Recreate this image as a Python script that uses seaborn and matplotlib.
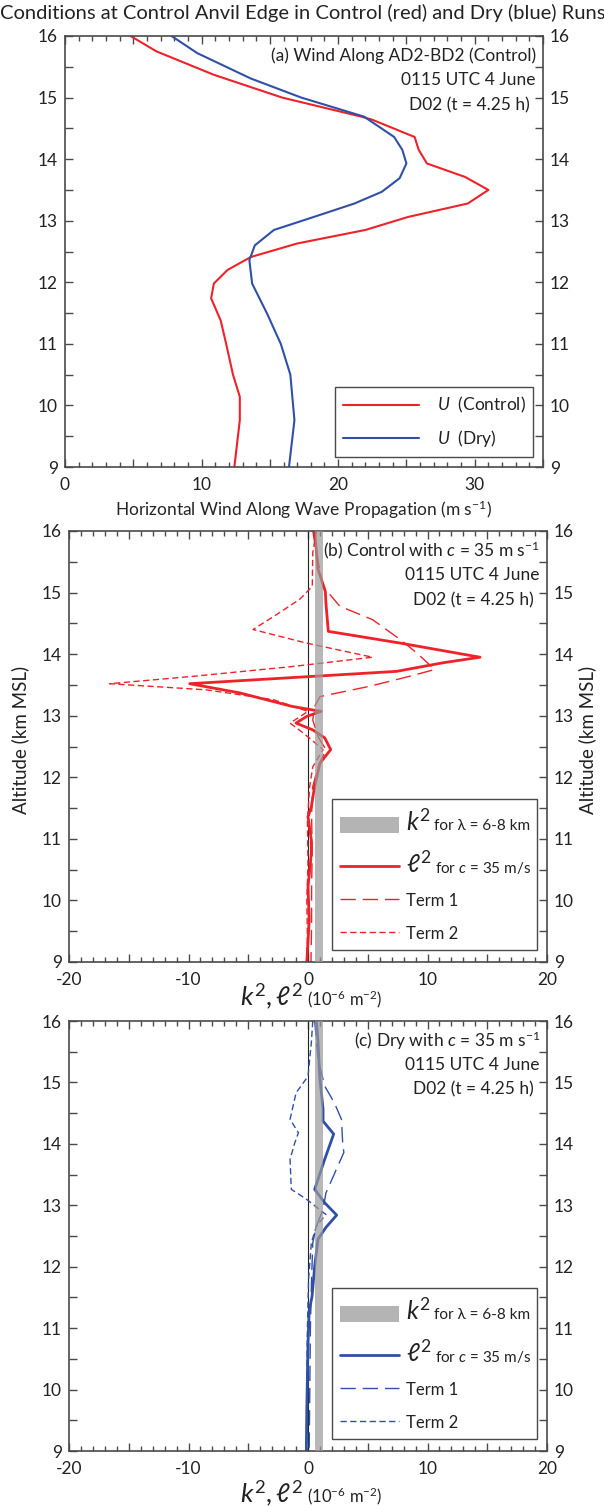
import numpy as np
import matplotlib
matplotlib.use("Agg")
import matplotlib.pyplot as plt
import seaborn as sns
from matplotlib.ticker import MultipleLocator, FuncFormatter
from matplotlib.patches import Patch
from matplotlib.lines import Line2D

# ---- data ----
# (a) wind along wave propagation (m/s) vs altitude (km MSL)
alt_ctl = [16.0, 15.75, 15.37, 15.0, 14.69, 14.64, 14.36, 14.15, 13.93, 13.71, 13.5, 13.28,
           13.06, 12.85, 12.63, 12.41, 12.2, 11.98, 11.74, 11.38, 11.0, 10.5, 10.14, 9.76, 9.0]
u_ctl = [4.8, 6.7, 10.9, 15.9, 21.7, 22.5, 25.6, 25.9, 26.5, 29.3, 31.0, 29.5,
         25.1, 22.0, 17.0, 13.6, 11.9, 10.9, 10.7, 11.4, 11.8, 12.3, 12.8, 12.8, 12.4]
alt_dry = [16.0, 15.72, 15.31, 15.0, 14.69, 14.36, 14.15, 13.93, 13.69, 13.47, 13.28,
           13.06, 12.85, 12.6, 12.36, 11.98, 11.49, 11.0, 10.5, 9.76, 9.0]
u_dry = [7.8, 9.7, 13.6, 17.3, 21.9, 24.1, 24.7, 25.0, 24.5, 23.2, 21.2,
         18.2, 15.3, 13.9, 13.5, 13.7, 14.8, 15.8, 16.5, 16.8, 16.4]

# (b) Control, c = 35 m/s  (10^-6 m^-2)
alt_l2_ctl = [16.0, 15.38, 15.02, 14.83, 14.37, 14.18, 13.95, 13.86, 13.72, 13.52, 13.37,
              13.15, 13.07, 12.99, 12.88, 12.77, 12.64, 12.45, 12.23, 11.85, 11.52, 11.36,
              10.98, 10.76, 10.22, 9.68, 9.0]
l2_ctl = [0.55, 0.84, 1.45, 1.5, 1.7, 7.7, 14.4, 11.3, 7.4, -9.9, -5.7,
          -1.3, 1.1, -0.1, -1.0, 0.4, 1.4, 1.9, 1.0, 0.55, 0.28, 0.0,
          0.28, 0.28, 0.0, 0.1, -0.1]
alt_t1_ctl = [16.0, 15.65, 15.1, 14.78, 14.56, 14.24, 14.02, 13.75, 13.64, 13.48, 13.31,
              13.15, 12.93, 12.66, 12.45, 12.17, 11.85, 11.4, 10.8, 10.2, 9.6, 9.0]
t1_ctl = [0.4, 0.7, 1.26, 2.65, 5.4, 7.7, 9.1, 10.6, 8.5, 5.2, 1.0,
          0.55, 0.4, 0.84, 1.5, 0.84, 0.4, 0.3, 0.35, 0.3, 0.3, 0.25]
alt_t2_ctl = [16.0, 15.65, 15.1, 14.89, 14.64, 14.4, 14.18, 13.95, 13.8, 13.64, 13.52,
              13.42, 13.26, 13.07, 12.88, 12.72, 12.45, 12.17, 11.85, 11.3, 10.6, 10.0,
              9.4, 9.0]
t2_ctl = [0.7, 0.4, 0.36, -0.7, -2.65, -4.6, -0.14, 5.4, -1.26, -9.6, -16.6,
          -8.5, -2.9, 0.0, -1.5, -0.4, 1.26, 0.4, 0.14, -0.05, 0.0, -0.1,
          -0.05, -0.1]

# (c) Dry, c = 35 m/s
alt_l2_dry = [16.0, 15.65, 15.1, 14.56, 14.37, 14.16, 13.75, 13.26, 13.04, 12.84, 12.64,
              12.45, 12.01, 11.52, 11.28, 10.76, 9.68, 9.0]
l2_dry = [0.7, 0.84, 0.98, 1.26, 1.26, 2.15, 1.4, 0.56, 1.4, 2.4, 1.5,
          0.84, 0.56, 0.34, 0.1, 0.0, -0.1, -0.14]
alt_t1_dry = [16.0, 15.38, 14.94, 14.67, 14.4, 14.02, 13.86, 13.64, 13.2, 12.93, 12.66,
              12.39, 11.8, 11.0, 10.0, 9.0]
t1_dry = [0.56, 0.84, 1.4, 2.2, 2.8, 2.9, 3.0, 2.5, 1.5, 1.26, 0.7,
          0.4, 0.3, 0.2, 0.15, 0.1]
alt_t2_dry = [16.0, 15.65, 15.1, 14.83, 14.4, 14.18, 14.02, 13.75, 13.26, 13.1, 12.85,
              12.66, 12.39, 11.8, 11.0, 10.0, 9.0]
t2_dry = [0.4, 0.28, 0.0, -1.0, -1.5, -0.8, -1.1, -1.5, -1.4, -0.14, 1.5,
          0.7, 0.28, 0.05, -0.05, -0.1, -0.1]

# k^2 band for wavelengths 6-8 km
k2_band = [0.6, 1.25]

RED = "#EE2228"
BLUE = "#3050A8"
EDGE = "#4a4a4a"

sns.set_style("ticks")
plt.rcParams["font.family"] = ["Lato", "DejaVu Sans"]
plt.rcParams["mathtext.fontset"] = "custom"
plt.rcParams["mathtext.rm"] = "Lato"
plt.rcParams["mathtext.it"] = "Lato:italic"
plt.rcParams["mathtext.sf"] = "Lato"
plt.rcParams["text.color"] = "#222222"

fig = plt.figure(figsize=(6.04, 15.06), dpi=100)
W, H = 604.0, 1506.0


def add_ax(left, right, top, bottom):
    return fig.add_axes([left / W, 1 - bottom / H, (right - left) / W, (bottom - top) / H])


ax_a = add_ax(65, 543, 36, 467)
ax_b = add_ax(69, 547, 531, 962)
ax_c = add_ax(69, 547, 1021, 1451)

TICK_FS = 12.5
NOTE_FS = 12.5


def style_axes(ax, xmin, xmax):
    ax.set_xlim(xmin, xmax)
    ax.set_ylim(9, 16)
    ax.xaxis.set_major_locator(MultipleLocator(5))
    ax.xaxis.set_minor_locator(MultipleLocator(1))
    ax.xaxis.set_major_formatter(FuncFormatter(lambda v, p: f"{v:g}" if abs(v) % 10 == 0 else ""))
    ax.yaxis.set_major_locator(MultipleLocator(1))
    ax.yaxis.set_minor_locator(MultipleLocator(0.5))
    ax.tick_params(which="both", direction="in", top=True, right=True, labelright=True,
                   colors=EDGE, labelcolor="#222222", labelsize=TICK_FS, width=1.0)
    ax.tick_params(axis="x", which="major", length=6, pad=7)
    ax.tick_params(axis="x", which="minor", length=3.5)
    ax.tick_params(axis="y", which="both", length=6, pad=5)
    for s in ax.spines.values():
        s.set_visible(True)
        s.set_color(EDGE)
        s.set_linewidth(1.2)
    ax.set_xlabel("")
    ax.set_ylabel("")


def header(ax, line1):
    ax.text(0.985, 0.955, line1, transform=ax.transAxes, ha="right", va="center", fontsize=NOTE_FS)
    ax.text(0.985, 0.897, "0115 UTC 4 June", transform=ax.transAxes, ha="right", va="center", fontsize=NOTE_FS)
    ax.text(0.973, 0.840, "D02 (t = 4.25 h)", transform=ax.transAxes, ha="right", va="center", fontsize=NOTE_FS)


# ---- (a) ----
sns.lineplot(x=u_ctl, y=alt_ctl, sort=False, estimator=None, color=RED, lw=1.5, ax=ax_a)
sns.lineplot(x=u_dry, y=alt_dry, sort=False, estimator=None, color=BLUE, lw=1.5, ax=ax_a)
style_axes(ax_a, 0, 35)
header(ax_a, "(a) Wind Along AD2-BD2 (Control)")
ax_a.set_xlabel(r"Horizontal Wind Along Wave Propagation (m s$^{-1}$)", fontsize=12.5, labelpad=4)
handles_a = [Line2D([], [], color=RED, lw=1.5), Line2D([], [], color=BLUE, lw=1.5)]
leg = ax_a.legend(handles_a, [r"$U$  (Control)", r"$U$  (Dry)"], loc="lower right",
                  bbox_to_anchor=(0.98, 0.023), borderaxespad=0, fontsize=12.5,
                  handlelength=4.4, handletextpad=1.0, labelspacing=0.75,
                  fancybox=False, frameon=True, framealpha=1, borderpad=0.45)
leg.get_frame().set_edgecolor(EDGE)
leg.get_frame().set_linewidth(1.0)

suffixes = []


# ---- (b), (c) ----
def k_panel(ax, col, alt_l2, l2, alt_t1, t1, alt_t2, t2, line1, label_y):
    ax.axvline(0, color="#222222", lw=0.8, zorder=1)
    sns.lineplot(x=l2, y=alt_l2, sort=False, estimator=None, color=col, lw=2.0, ax=ax, zorder=2)
    sns.lineplot(x=t1, y=alt_t1, sort=False, estimator=None, color=col, lw=1.0,
                 linestyle=(0, (11, 5)), ax=ax, zorder=2)
    sns.lineplot(x=t2, y=alt_t2, sort=False, estimator=None, color=col, lw=1.0,
                 linestyle=(0, (4.5, 2.5)), ax=ax, zorder=2)
    ax.axvspan(k2_band[0], k2_band[1], color="#9a9a9a", alpha=0.7, lw=0, zorder=3)
    style_axes(ax, -20, 20)
    header(ax, line1)
    ax.text(0.49, label_y, r"$k^{2}, \ell^{2}$", transform=ax.transAxes, ha="right",
            va="baseline", fontsize=19)
    ax.text(0.497, label_y, r"(10$^{-6}$ m$^{-2}$)", transform=ax.transAxes, ha="left",
            va="baseline", fontsize=12)
    handles = [Patch(facecolor="#b4b4b4", edgecolor="none"),
               Line2D([], [], color=col, lw=2.0),
               Line2D([], [], color=col, lw=1.0, linestyle=(0, (11, 5))),
               Line2D([], [], color=col, lw=1.0, linestyle=(0, (4.5, 2.5)))]
    labels = [r"$k^{2}$", r"$\ell^{2}$", "Term 1", "Term 2"]
    # fixed-width frame (mode="expand"); the small "for ..." parts are added after drawing
    lg = ax.legend(handles, labels, loc="lower left", bbox_to_anchor=(0.55, 0.028, 0.429, 0),
                   mode="expand", borderaxespad=0, fontsize=12, handlelength=3.5,
                   handleheight=1.1, handletextpad=0.45, labelspacing=0.95, fancybox=False,
                   frameon=True, framealpha=1, borderpad=0.5)
    for t in lg.get_texts()[:2]:
        t.set_fontsize(18)
    lg.get_frame().set_edgecolor(EDGE)
    lg.get_frame().set_linewidth(1.0)
    suffixes.append((lg, ["for λ = 6-8 km", "for $c$ = 35 m/s"]))


k_panel(ax_b, RED, alt_l2_ctl, l2_ctl, alt_t1_ctl, t1_ctl, alt_t2_ctl, t2_ctl,
        r"(b) Control with $c$ = 35 m s$^{-1}$", -0.10)
k_panel(ax_c, BLUE, alt_l2_dry, l2_dry, alt_t1_dry, t1_dry, alt_t2_dry, t2_dry,
        r"(c) Dry with $c$ = 35 m s$^{-1}$", -0.12)

fig.text(0.0, 1 - 13 / H, "Conditions at Control Anvil Edge in Control (red) and Dry (blue) Runs",
         ha="left", va="center", fontsize=14.5)
fig.text(20 / W, 1 - 740 / H, "Altitude (km MSL)", rotation=90, ha="center", va="center", fontsize=13.5)
fig.text(587 / W, 1 - 740 / H, "Altitude (km MSL)", rotation=90, ha="center", va="center", fontsize=13.5)

# small "for ..." text right after the large k^2 / l^2 legend symbols
fig.canvas.draw()
renderer = fig.canvas.get_renderer()
inv = fig.transFigure.inverted()
for lg, sfx in suffixes:
    for t, s in zip(lg.get_texts()[:2], sfx):
        bb = t.get_window_extent(renderer)
        px, py = t.get_transform().transform(t.get_position())
        fx, fy = inv.transform((bb.x1 + 3, py))
        fig.text(fx, fy, s, ha="left", va="baseline", fontsize=11, zorder=10)

fig.savefig("out.png", dpi=100)
